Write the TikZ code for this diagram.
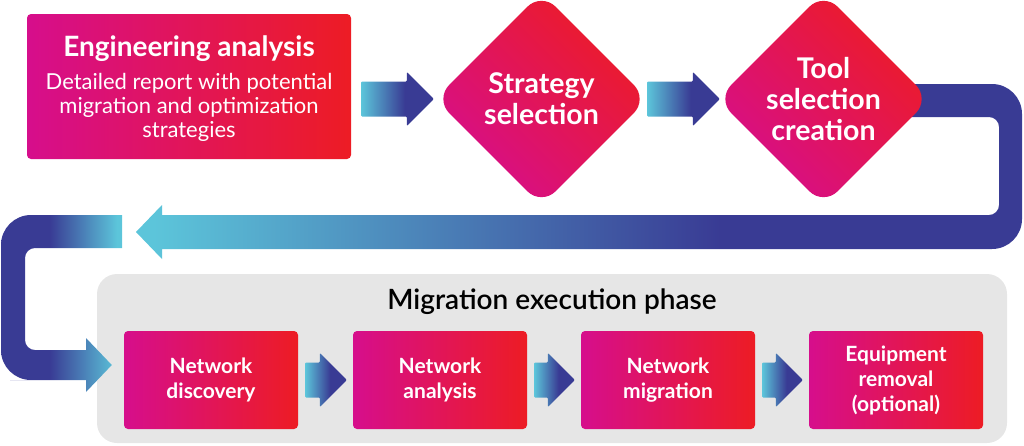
\documentclass[tikz,border=0pt]{standalone}
\usepackage{fontspec}
\setmainfont{Lato}
\IfFontExistsTF{Lato Semibold}{\newfontfamily\phasefont{Lato Semibold}}{%
    \IfFontExistsTF{Lato Medium}{\newfontfamily\phasefont{Lato Medium}}{\newfontfamily\phasefont{Lato}}}
\usetikzlibrary{shapes.geometric,calc,backgrounds}

\definecolor{boxmagenta}{RGB}{214,14,140}
\definecolor{boxred}{RGB}{237,28,36}
\definecolor{arrownavy}{RGB}{57,59,148}
\definecolor{arrowcyan}{RGB}{92,197,218}
\definecolor{panelgray}{RGB}{230,230,230}

\pgfdeclarehorizontalshading{arrowshade}{100bp}{color(0bp)=(arrowcyan); color(25bp)=(arrowcyan); color(55bp)=(arrownavy); color(100bp)=(arrownavy)}
\pgfdeclarehorizontalshading{loopshade}{100bp}{color(0bp)=(arrowcyan); color(26bp)=(arrowcyan); color(58bp)=(arrownavy); color(100bp)=(arrownavy)}
\pgfdeclarehorizontalshading{cshade}{100bp}{color(0bp)=(arrownavy); color(45bp)=(arrownavy); color(73bp)=(arrowcyan); color(100bp)=(arrowcyan)}

\tikzset{
    redbox/.style={rounded corners=4pt, left color=boxmagenta, right color=boxred, inner sep=0pt},
    stepbox/.style={redbox, minimum width=174pt, minimum height=98pt, text=white, align=center, font=\bfseries\fontsize{21}{25}\selectfont},
    gem/.style={diamond, rounded corners=20pt, minimum width=213pt, minimum height=213pt, inner sep=0pt,
        bottom color=boxmagenta, top color=boxred, shading angle=-45,
        text=white, align=center, font=\bfseries\fontsize{28.5}{31}\selectfont},
    panel/.style={fill=panelgray, rounded corners=20pt, minimum width=910pt, minimum height=169pt, inner sep=0pt},
}

% fat arrow from tail point #1 to tip point #2 (same height)
\newcommand\fatarrow[2]{%
    \shade[shading=arrowshade, rounded corners=1pt] let \p1=(#1), \p2=(#2) in
        (\x1,\y1-17.5pt) -- (\x2-27pt,\y1-17.5pt) -- (\x2-27pt,\y1-27pt) -- (\x2,\y1)
        -- (\x2-27pt,\y1+27pt) -- (\x2-27pt,\y1+17.5pt) -- (\x1,\y1+17.5pt) -- cycle;}

\begin{document}
\begin{tikzpicture}[x=1pt, y=-1pt]
\useasboundingbox (0,0) rectangle (1024,445);

% top row
\node[redbox, minimum width=324pt, minimum height=145pt] (ea) at (189,86.5) {};
\node[text=white, anchor=base, font=\bfseries\fontsize{28}{30}\selectfont] (eatitle) at (189,56) {Engineering analysis};
\node[text=white, align=center, font=\fontsize{22}{24}\selectfont] (eatext) at (189,107) {Detailed report with potential\\migration and optimization\\strategies};
\node[gem] (ss) at (541.5,99) {Strategy\\selection};
\node[gem] (tc) at (823.5,99) {Tool\\selection\\creation};

\fatarrow{$(ea.east |- ss.west)+(10,0)$}{$(ss.west)+(-1,0)$}
\fatarrow{$(ss.east)+(-1,0)$}{$(tc.west)+(3,0)$}

% return loop, behind the diamond
\coordinate (ret) at (136,232);
\begin{scope}[on background layer]
    \shade[shading=loopshade] ($(tc.center)+(0,-15)$) -- (940,84) [rounded corners=30pt] -- (1022,84) -- (1022,249)
        -- (900,249) [sharp corners] -- (162,249) -- (162,259) -- (ret) -- (162,205) -- (162,215)
        -- (900,215) [rounded corners=10pt] -- (999,215) -- (999,117) -- (960,117) [sharp corners]
        -- ($(tc.center)+(0,18)$) -- cycle;
\end{scope}

% migration execution phase
\node[panel] (phase) at (552,358.5) {};
\node[font=\phasefont\fontsize{28}{30}\selectfont] (phasetitle) at (552,302) {Migration execution phase};
\node[stepbox] (nd) at (211,380) {Network\\discovery};
\node[stepbox] (na) at (440,380) {Network\\analysis};
\node[stepbox] (nm) at (668,380) {Network\\migration};
\node[stepbox] (er) at (896,380) {Equipment\\removal\\(optional)};

\fatarrow{$(nd.east)+(7,0)$}{$(na.west)+(-6,0)$}
\fatarrow{$(na.east)+(7,0)$}{$(nm.west)+(-6,0)$}
\fatarrow{$(nm.east)+(7,0)$}{$(er.west)+(-6,0)$}

% entry loop into the phase
\coordinate (cin) at (122,232);
\shade[shading=cshade] (cin |- 0,215) -- (100,215) [rounded corners=30pt] -- (1,215) -- (1,380) -- (40,380) [sharp corners]
    -- (86,380) -- (86,392) -- ($(nd.west)+(-12,-15)$) -- (86,338) -- (86,350)
    -- (70,350) [rounded corners=10pt] -- (25,350) -- (25,248) -- (60,248) [sharp corners]
    -- (cin |- 0,248) -- cycle;
\end{tikzpicture}
\end{document}
